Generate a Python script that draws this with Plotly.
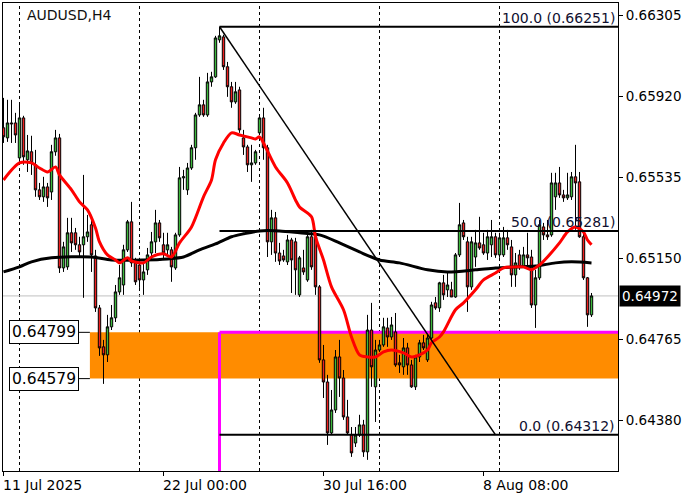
import plotly.graph_objects as go

# ---------------- data (AUDUSD H4) ----------------
opens = [0.65771,0.65723,0.65794,0.65794,0.65628,0.65818,0.65619,0.65657,0.65595,0.65476,
         0.65443,0.65490,0.65466,0.65657,0.65723,0.65105,0.65110,0.65272,0.65272,0.65215,
         0.65215,0.65253,0.65310,0.65162,0.64915,0.64730,0.64692,0.64825,0.64868,0.64991,
         0.65024,0.65191,0.65324,0.65129,0.65119,0.65048,0.65096,0.65176,0.65229,0.65319,
         0.65215,0.65191,0.65191,0.65105,0.65262,0.65533,0.65476,0.65580,0.65676,0.65832,
         0.65880,0.65832,0.65989,0.66013,0.66189,0.66203,0.66061,0.65966,0.65894,0.65951,
         0.65723,0.65680,0.65595,0.65604,0.65747,0.65818,0.65676,0.65229,0.65343,0.65176,
         0.65162,0.65134,0.65238,0.65229,0.64977,0.65105,0.65048,0.65253,0.65253,0.65015,
         0.64668,0.64563,0.64321,0.64430,0.64682,0.64582,0.64397,0.64311,0.64273,0.64311,
         0.64359,0.64231,0.64810,0.64540,0.64715,0.64739,0.64820,0.64777,0.64801,0.64654,
         0.64635,0.64725,0.64644,0.64540,0.64682,0.64749,0.64668,0.64772,0.64939,0.64915,
         0.65034,0.65001,0.65001,0.64967,0.65167,0.65319,0.65229,0.65015,0.65157,0.65224,
         0.65215,0.65176,0.65215,0.65253,0.65167,0.65167,0.65248,0.65205,0.65072,0.65167,
         0.65110,0.65167,0.65157,0.64929,0.65058,0.65300,0.65262,0.65262,0.65443,0.65509,
         0.65452,0.65438,0.65443,0.65538,0.65514,0.65253,0.65058,0.64882]
highs = [0.65913,0.65904,0.65904,0.65842,0.65885,0.65828,0.65737,0.65733,0.65666,0.65509,
         0.65538,0.65509,0.65690,0.65761,0.65742,0.65229,0.65343,0.65343,0.65295,0.65253,
         0.65547,0.65357,0.65357,0.65191,0.64929,0.64763,0.64882,0.64929,0.65024,0.65119,
         0.65215,0.65333,0.65419,0.65153,0.65153,0.65134,0.65200,0.65276,0.65381,0.65333,
         0.65272,0.65272,0.65205,0.65272,0.65585,0.65571,0.65604,0.65690,0.65842,0.66013,
         0.65904,0.66032,0.66037,0.66208,0.66251,0.66213,0.66084,0.65989,0.65989,0.65966,
         0.65761,0.65690,0.65690,0.65666,0.65823,0.65866,0.65690,0.65381,0.65371,0.65224,
         0.65191,0.65262,0.65248,0.65248,0.65162,0.65191,0.65262,0.65286,0.65286,0.65024,
         0.64739,0.64597,0.64525,0.64715,0.64763,0.64620,0.64478,0.64349,0.64349,0.64407,
         0.64383,0.64882,0.64939,0.64763,0.64763,0.64868,0.64868,0.64872,0.64891,0.64692,
         0.64772,0.64749,0.64668,0.64692,0.64763,0.64787,0.64787,0.64944,0.64967,0.65039,
         0.65072,0.65086,0.65039,0.65176,0.65414,0.65333,0.65253,0.65253,0.65286,0.65348,
         0.65272,0.65286,0.65333,0.65272,0.65272,0.65300,0.65286,0.65238,0.65176,0.65191,
         0.65205,0.65272,0.65191,0.65096,0.65333,0.65319,0.65333,0.65557,0.65557,0.65585,
         0.65476,0.65557,0.65561,0.65690,0.65561,0.65276,0.65062,0.64986]
lows = [0.65699,0.65704,0.65699,0.65699,0.65609,0.65595,0.65561,0.65547,0.65443,0.65428,
        0.65419,0.65395,0.65428,0.65638,0.65081,0.65086,0.65096,0.65181,0.65191,0.65157,
        0.64963,0.65229,0.65086,0.64896,0.64687,0.64554,0.64658,0.64810,0.64848,0.64977,
        0.64977,0.65181,0.65110,0.65024,0.65010,0.64977,0.65072,0.65143,0.65176,0.65229,
        0.65143,0.65167,0.65039,0.65096,0.65253,0.65476,0.65452,0.65571,0.65619,0.65823,
        0.65823,0.65823,0.65966,0.66008,0.66175,0.66046,0.65918,0.65866,0.65885,0.65747,
        0.65642,0.65561,0.65514,0.65595,0.65737,0.65619,0.65157,0.65167,0.65134,0.65119,
        0.65134,0.65119,0.64986,0.64977,0.64967,0.65072,0.65039,0.65096,0.64977,0.64654,
        0.64487,0.64264,0.64311,0.64416,0.64492,0.64383,0.64311,0.64207,0.64254,0.64302,
        0.64207,0.64193,0.64540,0.64373,0.64706,0.64730,0.64730,0.64763,0.64635,0.64606,
        0.64597,0.64597,0.64535,0.64525,0.64658,0.64715,0.64658,0.64763,0.64906,0.64896,
        0.64953,0.64967,0.64967,0.64963,0.65157,0.65238,0.64896,0.65001,0.65110,0.65191,
        0.65167,0.65143,0.65157,0.65153,0.65153,0.65157,0.65191,0.65015,0.65015,0.65096,
        0.65105,0.65110,0.64915,0.64820,0.65048,0.65238,0.65238,0.65253,0.65381,0.65438,
        0.65419,0.65428,0.65428,0.65286,0.65248,0.65048,0.64825,0.64872]
closes = [0.65728,0.65794,0.65790,0.65737,0.65818,0.65633,0.65661,0.65604,0.65476,0.65443,
          0.65490,0.65438,0.65657,0.65723,0.65105,0.65205,0.65272,0.65224,0.65215,0.65181,
          0.65253,0.65276,0.65167,0.64915,0.64725,0.64692,0.64825,0.64868,0.64991,0.65058,
          0.65191,0.65324,0.65129,0.65039,0.65048,0.65086,0.65167,0.65229,0.65319,0.65248,
          0.65176,0.65215,0.65110,0.65262,0.65533,0.65538,0.65580,0.65676,0.65832,0.65880,
          0.65832,0.65989,0.66013,0.66198,0.66208,0.66061,0.65966,0.65894,0.65942,0.65761,
          0.65680,0.65595,0.65604,0.65657,0.65818,0.65676,0.65229,0.65343,0.65176,0.65138,
          0.65143,0.65238,0.65143,0.65096,0.65153,0.65086,0.65253,0.65110,0.65015,0.64668,
          0.64563,0.64321,0.64430,0.64682,0.64582,0.64397,0.64321,0.64226,0.64311,0.64359,
          0.64231,0.64810,0.64635,0.64715,0.64739,0.64825,0.64777,0.64834,0.64644,0.64644,
          0.64725,0.64644,0.64540,0.64682,0.64749,0.64725,0.64772,0.64929,0.64915,0.65034,
          0.64977,0.65024,0.64967,0.65167,0.65310,0.65253,0.65015,0.65229,0.65224,0.65200,
          0.65176,0.65253,0.65253,0.65167,0.65248,0.65248,0.65215,0.65072,0.65129,0.65110,
          0.65167,0.65153,0.64929,0.65058,0.65310,0.65262,0.65253,0.65509,0.65509,0.65452,
          0.65438,0.65452,0.65538,0.65509,0.65253,0.65058,0.64882,0.64972]

# red moving average (read at selected bars)
ma_fast_idx = [0,4,7,9,11,13,14,17,19,21,23,24,26,28,29,31,32,35,37,40,42,44,47,50,52,53,55,57,
               59,62,63,64,65,68,71,73,74,77,78,80,82,85,87,89,91,93,95,97,100,102,104,106,107,
               109,110,113,115,118,120,123,125,128,130,132,134,136,139,141,143,145,146,147]
ma_fast_val = [0.65523,0.65604,0.65604,0.65580,0.65561,0.65585,0.65547,0.65476,0.65419,0.65381,
               0.65295,0.65229,0.65167,0.65143,0.65129,0.65153,0.65138,0.65129,0.65157,0.65172,
               0.65157,0.65224,0.65300,0.65443,0.65523,0.65619,0.65699,0.65747,0.65737,0.65723,
               0.65718,0.65728,0.65699,0.65585,0.65509,0.65428,0.65395,0.65348,0.65253,0.65143,
               0.65015,0.64906,0.64777,0.64692,0.64682,0.64682,0.64706,0.64715,0.64701,0.64682,
               0.64692,0.64715,0.64749,0.64777,0.64801,0.64906,0.64939,0.65001,0.65048,0.65081,
               0.65105,0.65110,0.65110,0.65096,0.65119,0.65157,0.65224,0.65276,0.65300,0.65276,
               0.65238,0.65215]
# black moving average (read at selected bars)
ma_slow_idx = [0,4,7,12,22,27,35,41,45,49,53,57,60,64,69,74,79,84,89,94,99,106,111,118,123,128,
               133,138,142,147]
ma_slow_val = [0.65086,0.65110,0.65134,0.65153,0.65157,0.65143,0.65143,0.65148,0.65157,0.65191,
               0.65219,0.65253,0.65267,0.65281,0.65281,0.65272,0.65262,0.65224,0.65181,0.65143,
               0.65129,0.65096,0.65086,0.65096,0.65105,0.65110,0.65114,0.65129,0.65134,0.65129]

# axis
y_ticks = [0.66305, 0.65920, 0.65535, 0.65150, 0.64765, 0.64380]
x_tick_idx = [0, 40, 80, 120]
x_tick_labels = ["11 Jul 2025", "22 Jul 00:00", "30 Jul 16:00", "8 Aug 08:00"]
grid_idx = [4, 34, 64, 94, 124]

# objects
fib_start_idx, fib_end_idx = 54, 123
fib_levels = [(100.0, 0.66251), (50.0, 0.65281), (0.0, 0.64312)]
zone_start_idx = 22
zone_top, zone_bottom = 0.64799, 0.64579
magenta_idx = 54
bid = 0.64972
symbol = "AUDUSD,H4"

X_RANGE = [-0.125, 153.625]
Y_RANGE = [0.64140, 0.66364]

FONT = "DejaVu Sans"
GREEN = "#3cb83c"
RED = "#ee2020"

x = list(range(len(opens)))

fig = go.Figure()

fig.add_trace(go.Candlestick(
    x=x, open=opens, high=highs, low=lows, close=closes,
    increasing=dict(line=dict(color="black", width=1), fillcolor=GREEN),
    decreasing=dict(line=dict(color="black", width=1), fillcolor=RED),
    whiskerwidth=0, hoverinfo="skip", showlegend=False,
))
fig.add_trace(go.Scatter(x=ma_slow_idx, y=ma_slow_val, mode="lines",
                         line=dict(color="black", width=3, shape="spline", smoothing=0.8),
                         hoverinfo="skip", showlegend=False))
fig.add_trace(go.Scatter(x=ma_fast_idx, y=ma_fast_val, mode="lines",
                         line=dict(color="#ff0000", width=3, shape="spline", smoothing=0.8),
                         hoverinfo="skip", showlegend=False))

shapes = []
# dashed vertical grid
for g in grid_idx:
    shapes.append(dict(type="line", xref="x", yref="paper", x0=g, x1=g, y0=0, y1=1,
                       line=dict(color="black", width=1, dash="3px,3px"), layer="below"))
# bid line
shapes.append(dict(type="line", xref="paper", yref="y", x0=0, x1=1, y0=bid, y1=bid,
                   line=dict(color="#c0c0c0", width=1), layer="below"))
# orange zone
shapes.append(dict(type="rect", xref="x", yref="y", x0=zone_start_idx - 0.4, x1=X_RANGE[1],
                   y0=zone_bottom, y1=zone_top, fillcolor="#ff8c00",
                   line=dict(width=0), layer="below"))
# connectors from price boxes to the zone
for lvl in (zone_top, zone_bottom):
    shapes.append(dict(type="line", xref="x", yref="y", xsizemode="pixel",
                       xanchor=zone_start_idx - 0.4, x0=-11, x1=0, y0=lvl, y1=lvl,
                       line=dict(color="black", width=1)))
# magenta L
shapes.append(dict(type="line", xref="x", yref="y", x0=magenta_idx, x1=X_RANGE[1],
                   y0=zone_top, y1=zone_top, line=dict(color="#ff00ff", width=3), layer="below"))
shapes.append(dict(type="line", xref="x", yref="y", x0=magenta_idx, x1=magenta_idx,
                   y0=zone_top, y1=Y_RANGE[0], line=dict(color="#ff00ff", width=3), layer="below"))
# fibonacci
shapes.append(dict(type="line", xref="x", yref="y", x0=fib_start_idx, y0=fib_levels[0][1],
                   x1=fib_end_idx, y1=fib_levels[2][1], line=dict(color="black", width=1.5)))
for lvl, price in fib_levels:
    shapes.append(dict(type="line", xref="x", yref="y", x0=fib_start_idx, x1=X_RANGE[1],
                       y0=price, y1=price, line=dict(color="black", width=2)))

annotations = []
annotations.append(dict(text=symbol, xref="paper", yref="paper", x=0, y=1, xanchor="left",
                        yanchor="top", xshift=22, yshift=-2, showarrow=False,
                        font=dict(family=FONT, size=14, color="#101010")))
for lvl, price in fib_levels:
    annotations.append(dict(text=f"{lvl:.1f} ({price:.5f})", xref="paper", yref="y", x=1, y=price,
                            xanchor="right", yanchor="bottom", xshift=-1, yshift=-1,
                            showarrow=False, font=dict(family=FONT, size=14, color="#101030")))
for lvl in (zone_top, zone_bottom):
    annotations.append(dict(text=f"{lvl:.5f}", xref="x", yref="y", x=zone_start_idx - 0.4, y=lvl,
                            xanchor="right", yanchor="middle", xshift=-11, showarrow=False,
                            bgcolor="white", bordercolor="black", borderwidth=1, borderpad=2,
                            font=dict(family=FONT, size=15.5, color="black")))
annotations.append(dict(text=f"{bid:.5f}", xref="paper", yref="y", x=1, y=bid, xanchor="left",
                        yanchor="middle", xshift=1, showarrow=False, bgcolor="black",
                        borderpad=2, font=dict(family=FONT, size=13.5, color="white")))
for xi, lab in zip(x_tick_idx, x_tick_labels):
    annotations.append(dict(text=lab, xref="x", yref="paper", x=xi, y=0, xanchor="left",
                            yanchor="top", xshift=-3, yshift=-4, showarrow=False,
                            font=dict(family=FONT, size=14, color="black")))

fig.update_layout(
    width=700, height=500,
    margin=dict(l=3, r=82, t=3, b=29),
    paper_bgcolor="white", plot_bgcolor="white",
    shapes=shapes, annotations=annotations,
    xaxis=dict(range=X_RANGE, rangeslider=dict(visible=False), showgrid=False, zeroline=False,
               tickvals=x_tick_idx, ticktext=[""] * len(x_tick_idx), ticks="outside",
               ticklen=4, tickcolor="black", showline=True, linecolor="black", linewidth=1,
               mirror=True, fixedrange=True),
    yaxis=dict(range=Y_RANGE, side="right", showgrid=False, zeroline=False,
               tickvals=y_ticks, ticktext=[f"{v:.5f}" for v in y_ticks], ticks="outside",
               ticklen=4, tickcolor="black", showline=True, linecolor="black", linewidth=1,
               mirror=True, tickfont=dict(family=FONT, size=13.5, color="black"),
               fixedrange=True),
    font=dict(family=FONT),
    boxgap=0.15,
)

fig.write_html("out.html", config={"displayModeBar": False},
               post_script="document.body.style.margin='0';document.body.style.padding='0';")
